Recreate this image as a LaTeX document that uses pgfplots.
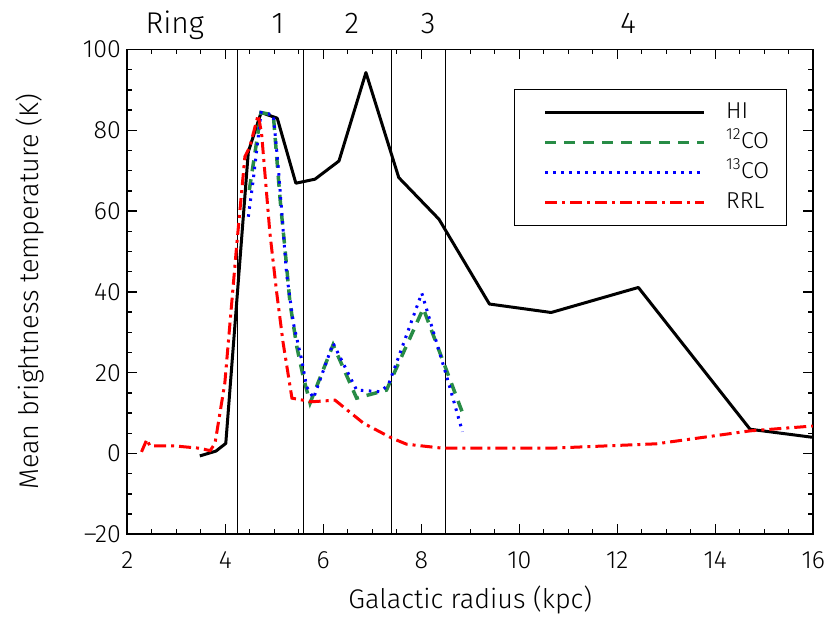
\documentclass[border=0pt]{standalone}
\usepackage{pgfplots}
\pgfplotsset{compat=1.18}
\usepackage{fontspec}
\setmainfont{Fira Sans}[UprightFont=* Light]
\definecolor{cogreen}{RGB}{40,140,70}
\newcommand{\lent}[1]{\makebox[31pt][l]{#1}}
\begin{document}
\begin{tikzpicture}
\path[use as bounding box] (-127.3pt,-83.7pt) rectangle (703.7pt,534.3pt);
\begin{axis}[
 at={(0pt,0pt)}, anchor=south west,
 scale only axis, width=686pt, height=484.8pt,
 xmin=2, xmax=16, ymin=-20, ymax=100,
 xtick={2,4,...,16}, xticklabels={2,4,6,8,10,12,14,16},
 ytick={-20,0,...,100}, yticklabels={–20,0,20,40,60,80,100},
 minor tick num=3,
 tick align=inside,
 major tick length=10pt, minor tick length=5pt,
 every tick/.style={black, line width=1.3pt},
 axis line style={line width=1.8pt},
 ticklabel style={font=\fontsize{25}{30}\selectfont},
 xticklabel style={yshift=-14pt},
 yticklabel style={xshift=-3pt},
 xlabel={Galactic radius (kpc)},
 ylabel={Mean brightness temperature (K)},
 label style={font=\fontsize{27}{32}\selectfont},
 xlabel style={at={(axis description cs:0.5,-0.1355)}, anchor=center},
 ylabel style={at={(axis description cs:-0.1414,0.5)}, anchor=center},
 clip=false,
 legend style={at={(axis cs:15.46,90.2)}, anchor=north east, draw=black, line width=1.3pt,
   inner xsep=29pt, inner ysep=8pt, font=\fontsize{23}{28}\selectfont,
   row sep=0pt, nodes={inner ysep=0pt, inner xsep=0pt, text height=21pt, text depth=9pt},
   /tikz/every odd column/.append style={column sep=20pt}},
 legend cell align=left,
 legend image code/.code={\draw[#1] (0pt,0pt) -- (159pt,0pt);},
]
% ring boundaries
\addplot[black, line width=1pt, forget plot] coordinates {(4.24,-20) (4.24,100)};
\addplot[black, line width=1pt, forget plot] coordinates {(5.60,-20) (5.60,100)};
\addplot[black, line width=1pt, forget plot] coordinates {(7.40,-20) (7.40,100)};
\addplot[black, line width=1pt, forget plot] coordinates {(8.50,-20) (8.50,100)};
% HI
\addplot[black, line width=3pt, line join=round] coordinates {
(3.48,-0.6) (3.81,0.6) (4.01,2.5) (4.47,74.7) (4.73,84.4) (5.06,83.0) (5.44,66.9)
(5.83,67.9) (6.32,72.4) (6.87,94.3) (7.54,68.3) (8.36,58.0) (9.39,37.0) (10.65,34.9)
(12.43,41.1) (14.71,6.0) (15.99,4.0)};
% 12CO
\addplot[cogreen, line width=3.5pt, dash pattern=on 11pt off 8pt] coordinates {
(4.49,65.2) (4.73,84.4) (4.98,83.8) (5.12,62.7) (5.22,50.4) (5.32,37.3) (5.46,26.4)
(5.59,19.0) (5.73,12.5) (6.20,26.9) (6.68,13.7) (7.29,15.7) (8.04,35.9) (8.84,10.1)};
% 13CO
\addplot[blue, line width=3pt, dash pattern=on 2.5pt off 5.5pt] coordinates {
(4.47,58.6) (4.57,67.7) (4.73,84.4) (4.98,83.8) (5.08,71.0) (5.25,44.6) (5.39,32.2)
(5.56,23.1) (5.66,16.5) (5.80,13.7) (6.20,27.3) (6.68,15.7) (7.16,15.3) (7.33,17.0)
(8.01,39.7) (8.52,19.0) (8.84,5.4)};
% RRL
\addplot[red, line width=3pt, dash pattern=on 12pt off 5pt on 3pt off 5pt] coordinates {
(2.29,0.4) (2.40,3.5) (2.46,1.9) (2.94,1.9) (3.48,1.3) (3.69,0.7) (3.79,2.5) (3.99,17.4)
(4.23,51.2) (4.40,73.5) (4.50,75.9) (4.67,83.8) (4.74,79.3) (4.91,54.6) (5.05,39.7)
(5.18,27.4) (5.36,13.7) (5.76,12.8) (6.24,13.2) (6.82,7.5) (7.40,3.8) (7.70,2.3)
(8.44,1.3) (10.63,1.3) (12.80,2.4) (14.71,5.6) (15.99,6.8)};
\legend{\lent{HI}, \lent{\textsuperscript{12}CO}, \lent{\textsuperscript{13}CO}, \lent{RRL}}
\node[anchor=base, font=\fontsize{30}{36}\selectfont] at (axis cs:2.97,104) {Ring};
\node[anchor=base, font=\fontsize{30}{36}\selectfont] at (axis cs:5.07,104) {1};
\node[anchor=base, font=\fontsize{30}{36}\selectfont] at (axis cs:6.58,104) {2};
\node[anchor=base, font=\fontsize{30}{36}\selectfont] at (axis cs:8.14,104) {3};
\node[anchor=base, font=\fontsize{30}{36}\selectfont] at (axis cs:12.22,104) {4};
\end{axis}
\end{tikzpicture}
\end{document}
